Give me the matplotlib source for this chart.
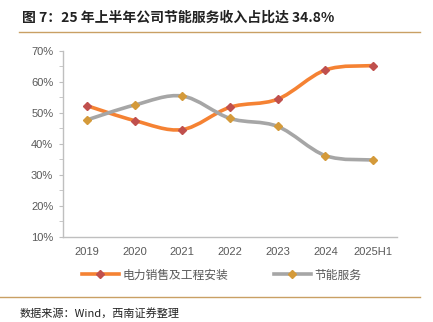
import numpy as np
import matplotlib.pyplot as plt
from matplotlib.path import Path
from matplotlib.patches import PathPatch
from matplotlib.lines import Line2D

plt.rcParams['font.family'] = ['Liberation Sans', 'Noto Sans CJK SC', 'DejaVu Sans']

years = ['2019', '2020', '2021', '2022', '2023', '2024', '2025H1']
power = [52.3, 47.5, 44.6, 51.8, 54.4, 63.8, 65.2]    # 电力销售及工程安装
saving = [47.7, 52.5, 55.4, 48.2, 45.6, 36.2, 34.8]   # 节能服务
names = ['电力销售及工程安装', '节能服务']

line_cols = ['#F58233', '#A6A6A6']
mark_cols = ['#C0504D', '#D49A3A']
txt = '#595959'


def smooth_path(x, y):
    # bezier path through the points, excel-like smoothing
    p = np.column_stack([x, y]).astype(float)
    verts = [p[0]]
    codes = [Path.MOVETO]
    n = len(p)
    for i in range(n - 1):
        p0 = p[i - 1] if i > 0 else p[i]
        p3 = p[i + 2] if i + 2 < n else p[i + 1]
        c1 = p[i] + (p[i + 1] - p0) / 6
        c2 = p[i + 1] - (p3 - p[i]) / 6
        verts += [c1, c2, p[i + 1]]
        codes += [Path.CURVE4] * 3
    return Path(verts, codes)


fig = plt.figure(figsize=(4.33, 3.22), dpi=100)
ax = fig.add_axes([0.1455, 0.264, 0.7715, 0.5785])

x = np.arange(len(years))
for vals, lc, mc in zip([power, saving], line_cols, mark_cols):
    ax.add_patch(PathPatch(smooth_path(x, vals), fill=False, edgecolor=lc,
                           lw=2.6, capstyle='round', zorder=2))
    ax.plot(x, vals, ls='none', marker='D', ms=4.5, color=mc, zorder=3)

ax.set_xlim(-0.5, 6.5)
ax.set_ylim(10, 70)
ax.set_xticks(x)
ax.set_xticklabels(years)
ax.set_yticks(np.arange(10, 71, 10))
ax.set_yticklabels([f'{v}%' for v in range(10, 71, 10)])
ax.set_yticks(np.arange(15, 70, 10), minor=True)
ax.tick_params(axis='y', which='both', direction='out', length=3, color='#BFBFBF',
               labelsize=8, labelcolor=txt, pad=4)
ax.tick_params(axis='x', length=0, labelsize=8, labelcolor=txt, pad=7)
for s in ['top', 'right']:
    ax.spines[s].set_visible(False)
for s in ['left', 'bottom']:
    ax.spines[s].set_color('#BFBFBF')
    ax.spines[s].set_linewidth(1.0)

handles = [Line2D([], [], color=lc, lw=2.6, marker='D', ms=4, mfc=mc, mec=mc)
           for lc, mc in zip(line_cols, mark_cols)]
leg = fig.legend(handles, names, loc='center', bbox_to_anchor=(0.512, 0.146), ncol=2,
                 frameon=False, fontsize=8.5, handlelength=3.2, columnspacing=3.8,
                 handletextpad=0.3)
for t in leg.get_texts():
    t.set_color(txt)
    t.set_family(['Noto Sans CJK SC'])

fig.text(0.05, 0.945, '图 7：25 年上半年公司节能服务收入占比达 34.8%', fontsize=10,
         fontweight='bold', color='#222222', va='center',
         family=['Noto Sans CJK SC', 'DejaVu Sans'])
fig.add_artist(Line2D([0.045, 0.97], [0.9, 0.9], color='#C9A064', lw=1.0))
fig.add_artist(Line2D([0.0, 0.97], [0.078, 0.078], color='#C9A064', lw=1.0))
fig.text(0.045, 0.028, '数据来源：Wind，西南证券整理', fontsize=8, style='italic',
         color='#222222', va='center', family=['Noto Sans CJK SC', 'DejaVu Sans'])

fig.savefig('out.png', dpi=100)
